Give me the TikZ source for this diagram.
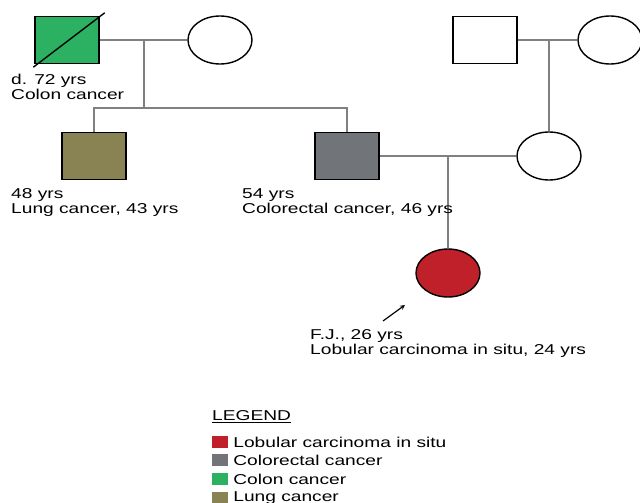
\documentclass[tikz,border=0pt]{standalone}
\usepackage{fontspec}
\setmainfont{Liberation Sans}[FakeStretch=1.34]
\usetikzlibrary{shapes.geometric, arrows, positioning}
\definecolor{colongreen}{RGB}{43,177,97}
\definecolor{lungolive}{RGB}{137,131,84}
\definecolor{crcgrey}{RGB}{113,116,120}
\definecolor{lcisred}{RGB}{192,32,42}
\tikzstyle{male} = [rectangle, minimum width=64pt, minimum height=47pt, inner sep=0pt, draw=black, line width=1.4pt]
\tikzstyle{female} = [ellipse, minimum width=64pt, minimum height=48pt, inner sep=0pt, draw=black, line width=1.4pt]
\tikzstyle{link} = [draw=gray, line width=1.1pt]
\tikzstyle{arrow} = [line width=1.2pt,->,>=stealth]
\tikzstyle{info} = [anchor=north west, align=left, inner sep=0pt, font=\fontsize{14.3}{15}\selectfont]
\tikzstyle{key} = [rectangle, minimum width=16pt, minimum height=12pt, inner sep=0pt]
\tikzstyle{keytxt} = [anchor=west, inner sep=0pt, font=\fontsize{14.3}{15}\selectfont]

\begin{document}
\begin{tikzpicture}[x=1pt, y=-1pt]
\useasboundingbox (0,0) rectangle (640,503);
% Drawing nodes
\node (gf1) [male, fill=colongreen] at (67,40) {};
\node (gm1) [female] at (220,40) {};
\node (gf2) [male] at (485,40) {};
\node (gm2) [female] at (610,40) {};
\node (son1) [male, fill=lungolive] at (94,156) {};
\node (son2) [male, fill=crcgrey] at (347,156) {};
\node (mom) [female] at (549,156) {};
\node (fj) [female, fill=lcisred] at (448,273) {};

% junctions
\coordinate (m1) at (144,40);
\coordinate (s1) at (144,108);
\coordinate (m2) at (549,40);
\coordinate (m3) at (448,156);
\coordinate (arS) at (383,321);
\coordinate (arE) at (405,305);

% Drawing lines
\draw [link] (gf1) -- (gm1);
\draw [link] (m1) -- (s1);
\draw [link] (s1) -| (son1.north);
\draw [link] (s1) -| (son2.north);
\draw [link] (gf2) -- (gm2);
\draw [link] (m2) -- (mom.north);
\draw [link] (son2) -- (mom);
\draw [link] (m3) -- (fj.north);
\draw [line width=1.4pt] ([shift={(-1,3)}]gf1.south west) -- ([shift={(5,-3)}]gf1.north east);
\draw [arrow] (arS) -- (arE);

% Labels
\node (lgf1) [info] at (11,74) {d. 72 yrs\\Colon cancer};
\node (lson1) [info] at (11,188) {48 yrs\\Lung cancer, 43 yrs};
\node (lson2) [info] at (242,188) {54 yrs\\Colorectal cancer, 46 yrs};
\node (lfj) [info] at (310,329) {F.J., 26 yrs\\Lobular carcinoma in situ, 24 yrs};

% Legend
\node (legend) [info] at (212,410) {\underline{LEGEND}};
\node (k1) [key, fill=lcisred] at (220,442) {};
\node (k2) [key, fill=crcgrey] at (220,460) {};
\node (k3) [key, fill=colongreen] at (220,479) {};
\node (k4) [key, fill=lungolive] at (220,498) {};
\node (t1) [keytxt, right=5pt of k1] {Lobular carcinoma in situ};
\node (t2) [keytxt, right=5pt of k2] {Colorectal cancer};
\node (t3) [keytxt, right=5pt of k3] {Colon cancer};
\node (t4) [keytxt, right=5pt of k4] {Lung cancer};
\end{tikzpicture}
\end{document}
